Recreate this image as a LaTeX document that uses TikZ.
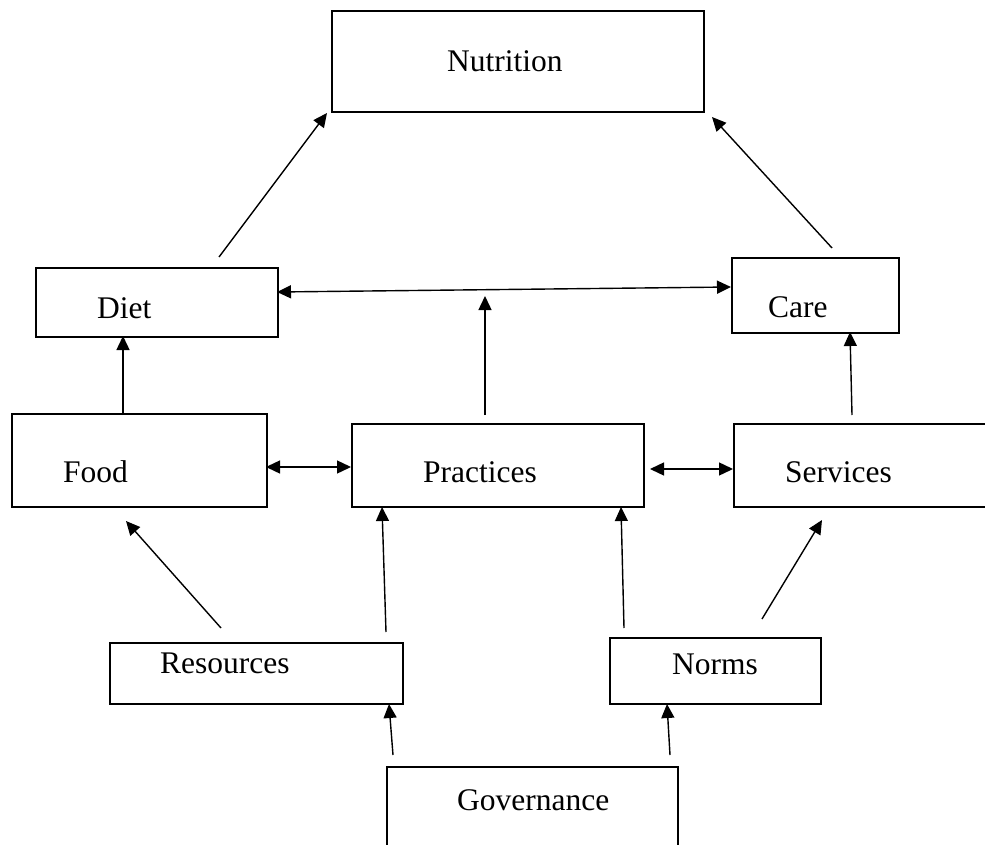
\documentclass[tikz,border=0pt]{standalone}
\usepackage{fontspec}
\setmainfont{Liberation Serif}
\usetikzlibrary{arrows.meta}
\tikzset{
 box/.style={draw, line width=1.9pt, inner sep=0pt, anchor=north west},
 lbl/.style={anchor=base west, inner sep=0pt, font=\fontsize{31.5}{36}\selectfont},
 arr/.style={line width=1.4pt, -{Triangle[length=14pt,width=13pt]}},
 darr/.style={line width=1.4pt, {Triangle[length=14pt,width=13pt]}-{Triangle[length=14pt,width=13pt]}},
}
\begin{document}
\begin{tikzpicture}[x=1pt,y=-1pt]
\useasboundingbox (0,0) rectangle (985,845);
\clip (0,0) rectangle (985,845);
% boxes
\node[box, minimum width=372pt, minimum height=101pt] (nut) at (331,10) {};
\node[box, minimum width=242pt, minimum height=69pt] (diet) at (35,267) {};
\node[box, minimum width=167pt, minimum height=75pt] (care) at (731,257) {};
\node[box, minimum width=255pt, minimum height=93pt] (food) at (11,413) {};
\node[box, minimum width=292pt, minimum height=83pt] (prac) at (351,423) {};
\node[box, minimum width=300pt, minimum height=83pt] (serv) at (733,423) {};
\node[box, minimum width=293pt, minimum height=61pt] (res) at (109,642) {};
\node[box, minimum width=211pt, minimum height=66pt] (norm) at (609,637) {};
\node[box, minimum width=291pt, minimum height=100pt] (gov) at (386,766) {};
% labels
\node[lbl] (nutT) at (447,72) {Nutrition};
\node[lbl] (dietT) at (97,318) {Diet};
\node[lbl] (careT) at (768,317) {Care};
\node[lbl] (foodT) at (63,482) {Food};
\node[lbl] (pracT) at (423,482) {Practices};
\node[lbl] (servT) at (785,482) {Services};
\node[lbl] (resT) at (160,673) {Resources};
\node[lbl] (normT) at (672,674) {Norms};
\node[lbl] (govT) at (457,810) {Governance};
% connector end points
\coordinate (a1s) at (219,257);  \coordinate (a1e) at (327,113);
\coordinate (a2s) at (832,248);  \coordinate (a2e) at (712,117);
\coordinate (a3s) at (277,292);  \coordinate (a3e) at (731,287);
\coordinate (a4s) at (485,415);  \coordinate (a4e) at (485,296);
\coordinate (a5s) at (123,415);  \coordinate (a5e) at (123,336);
\coordinate (a6s) at (266,467);  \coordinate (a6e) at (351,467);
\coordinate (a7s) at (650,469);  \coordinate (a7e) at (733,469);
\coordinate (a8s) at (852,415);  \coordinate (a8e) at (850,332);
\coordinate (a9s) at (221,628);  \coordinate (a9e) at (126,521);
\coordinate (a10s) at (386,632); \coordinate (a10e) at (382,507);
\coordinate (a11s) at (624,628); \coordinate (a11e) at (621,507);
\coordinate (a12s) at (762,619); \coordinate (a12e) at (822,520);
\coordinate (a13s) at (393,755); \coordinate (a13e) at (389,704);
\coordinate (a14s) at (670,755); \coordinate (a14e) at (667,704);
% connectors
\draw[arr] (a1s) -- (a1e);
\draw[arr] (a2s) -- (a2e);
\draw[darr] (a3s) -- (a3e);
\draw[arr] (a4s) -- (a4e);
\draw[arr] (a5s) -- (a5e);
\draw[darr] (a6s) -- (a6e);
\draw[darr] (a7s) -- (a7e);
\draw[arr] (a8s) -- (a8e);
\draw[arr] (a9s) -- (a9e);
\draw[arr] (a10s) -- (a10e);
\draw[arr] (a11s) -- (a11e);
\draw[arr] (a12s) -- (a12e);
\draw[arr] (a13s) -- (a13e);
\draw[arr] (a14s) -- (a14e);
\end{tikzpicture}
\end{document}
